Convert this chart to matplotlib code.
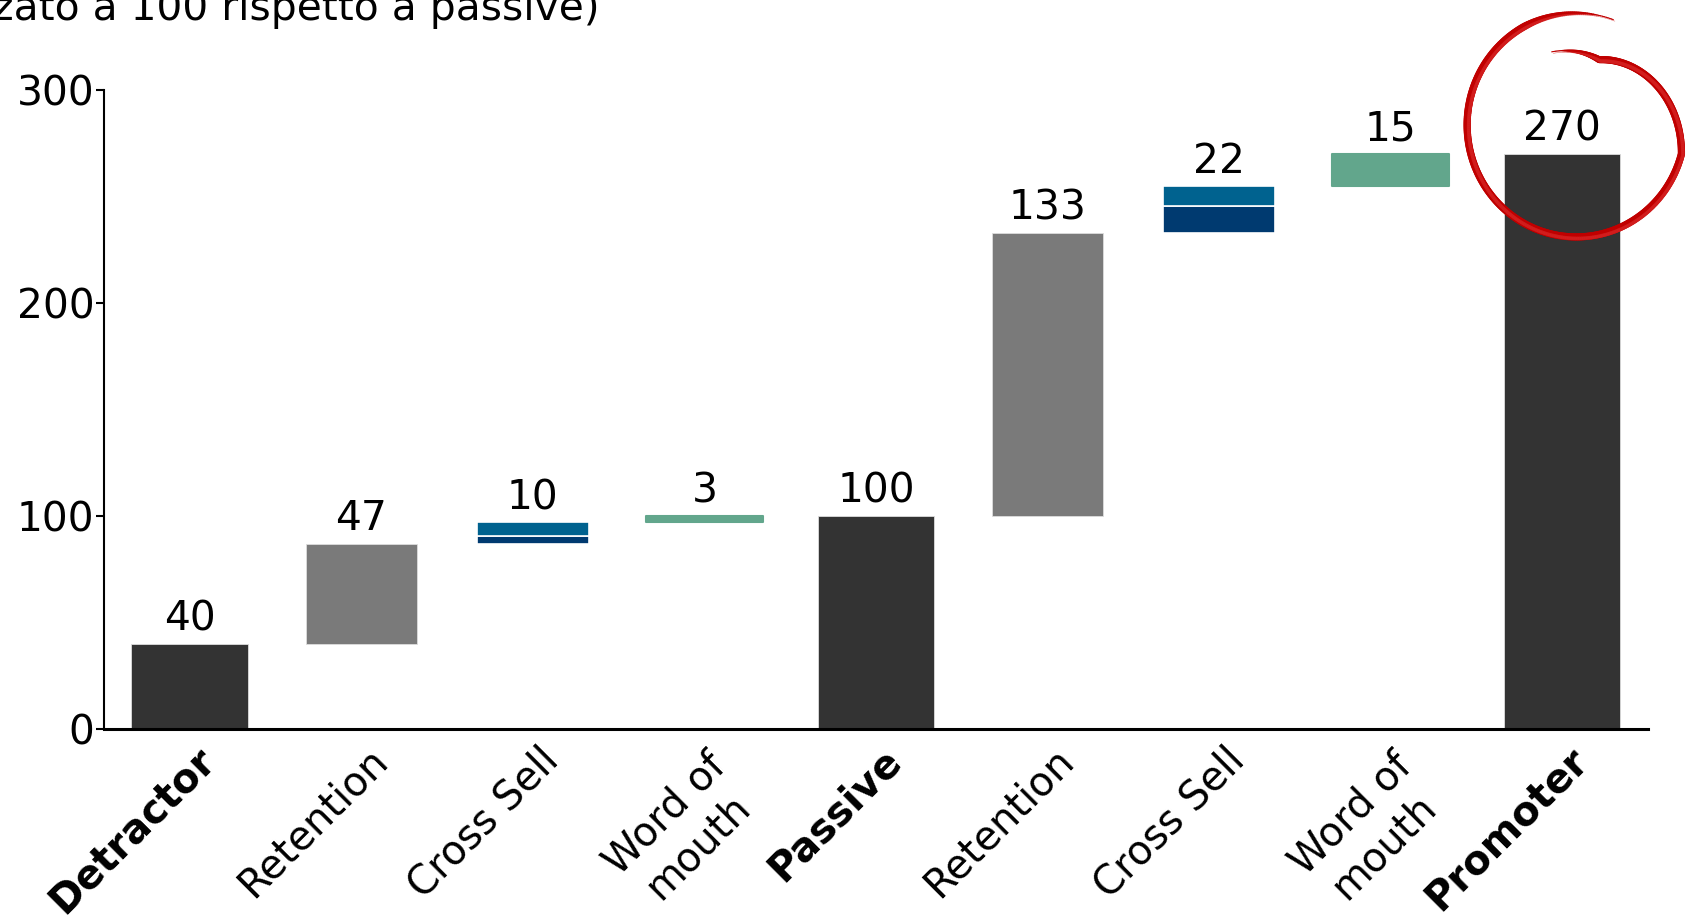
import numpy as np
import matplotlib
matplotlib.use("Agg")
import matplotlib.pyplot as plt
from matplotlib.collections import LineCollection
from matplotlib.transforms import IdentityTransform, offset_copy

# ---- data ----
categories = ["Detractor", "Retention", "Cross Sell", "Word of\nmouth", "Passive",
              "Retention", "Cross Sell", "Word of\nmouth", "Promoter"]
values = [40, 47, 10, 3, 100, 133, 22, 15, 270]
kinds = ["total", "gain", "cross", "wom", "total", "gain", "cross", "wom", "total"]
cross_navy = [3.5, 12.5]   # lower part of the Cross Sell steps
cross_blue = [6.5, 9.5]    # upper part of the Cross Sell steps
title = "Valore del cliente (normalizzato a 100 rispetto a passive)"
yticks = [0, 100, 200, 300]

colors = {"total": "#333333", "gain": "#7a7a7a", "wom": "#62a68c",
          "navy": "#003a70", "blue": "#00628f"}

plt.rcParams["font.family"] = ["DejaVu Sans"]
FS = 29.3

fig = plt.figure(figsize=(16.86, 9.15), dpi=100)
ax = fig.add_axes([0.0617, 0.2033, 0.9157, 0.6983])

x = np.arange(len(categories))
running = 0
tops = []
ci = 0
for i, (v, k) in enumerate(zip(values, kinds)):
    if k == "total":
        ax.bar(x[i], v, width=0.68, bottom=0, color=colors["total"],
               edgecolor="#dddddd", linewidth=0.6, zorder=2)
        running = v
        top = v
    elif k == "gain":
        ax.bar(x[i], v, width=0.65, bottom=running, color=colors["gain"],
               edgecolor="#dddddd", linewidth=0.6, zorder=2)
        running += v
        top = running
    elif k == "wom":
        ax.bar(x[i], v, width=0.68, bottom=running, color=colors["wom"],
               edgecolor=colors["wom"], linewidth=1.5, joinstyle="round", zorder=2)
        running += v
        top = running
    else:
        ax.bar(x[i], cross_navy[ci], width=0.65, bottom=running, color=colors["navy"],
               edgecolor="white", linewidth=1.2, zorder=2)
        ax.bar(x[i], cross_blue[ci], width=0.65, bottom=running + cross_navy[ci],
               color=colors["blue"], edgecolor="white", linewidth=1.2, zorder=2)
        ci += 1
        running += v
        top = running
    tops.append(top)
    ax.annotate(f"{v}", xy=(x[i], top), xytext=(0, 9.5), textcoords="offset points",
                ha="center", va="baseline", fontsize=FS, color="black",
                annotation_clip=False, zorder=3)

ax.set_xlim(-0.5, len(categories) - 0.5)
ax.set_ylim(0, 300)
ax.set_yticks(yticks)
ax.set_yticklabels([str(t) for t in yticks], fontsize=FS)
ax.tick_params(axis="y", length=6, width=1.5, pad=1)
ax.tick_params(axis="x", length=0)
ax.set_xticks(x)
ax.set_xticklabels([])
for s in ["top", "right"]:
    ax.spines[s].set_visible(False)
ax.spines["left"].set_linewidth(1.5)
ax.spines["bottom"].set_linewidth(2.2)

bold = {"Detractor", "Passive", "Promoter"}
two_line = offset_copy(ax.transData, fig=fig, x=12, y=-22, units="dots")
for i, lab in enumerate(categories):
    tr = two_line if "\n" in lab else ax.transData
    ax.text(x[i] + 0.115, -12, lab, rotation=45, rotation_mode="anchor",
            ha="right", va="center", multialignment="center", fontsize=FS - 0.5,
            fontweight="bold" if lab in bold else "normal",
            transform=tr, clip_on=False)

fig.text(0.3555, 0.978, title, ha="right", va="baseline", fontsize=FS)

# ---- hand-drawn red circle around the final total ----
fig.canvas.draw()
ax_x, ax_y = ax.transData.transform((x[-1], tops[-1]))
cx, cy = ax_x + 14, ax_y + 29
rx, ry = 109, 112
th = np.radians(np.linspace(70, 469, 400))
deg = np.degrees(th)
s = np.ones_like(deg)
m1 = (deg > 345) & (deg <= 430)
s[m1] = 1 - 0.38 * (deg[m1] - 345) / 85
m2 = deg > 430
s[m2] = 0.62 + 0.07 * (deg[m2] - 430) / 39
px = cx + rx * s * np.cos(th)
py = cy + ry * s * np.sin(th)
pts = np.column_stack([px, py])
segs = np.stack([pts[:-1], pts[1:]], axis=1)
tnorm = np.linspace(0, 1, len(segs))
widths = 5.2 * np.clip(np.minimum(tnorm / 0.12, (1 - tnorm) / 0.1), 0.15, 1.0)
lc = LineCollection(segs, linewidths=widths, colors="#c00000",
                    transform=IdentityTransform(), capstyle="round", zorder=5)
lc.set_clip_on(False)
fig.add_artist(lc)
lc2 = LineCollection(segs + np.array([1.5, -1.5]), linewidths=widths * 0.5,
                     colors="#d42020", alpha=0.6, transform=IdentityTransform(),
                     capstyle="round", zorder=5)
lc2.set_clip_on(False)
fig.add_artist(lc2)

fig.savefig("out.png", dpi=100)
